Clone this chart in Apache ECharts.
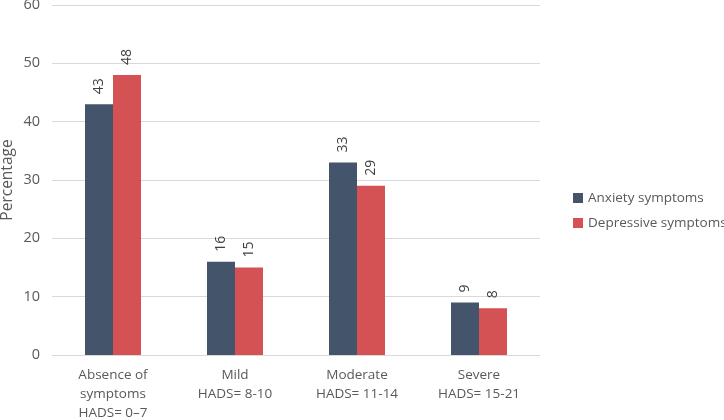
<!DOCTYPE html>
<html><head><meta charset="utf-8">
<script src="https://cdn.jsdelivr.net/npm/echarts@6/dist/echarts.min.js"></script>
<style>html,body{margin:0;padding:0;background:#fff}#c{width:724px;height:420px}</style>
</head><body><div id="c"></div>
<script>
const categories = ['Absence of\nsymptoms\nHADS= 0–7', 'Mild\nHADS= 8-10', 'Moderate\nHADS= 11-14', 'Severe\nHADS= 15-21'];
const anxiety = [43, 16, 33, 9];
const depressive = [48, 15, 29, 8];
const seriesNames = ['Anxiety symptoms', 'Depressive symptoms'];
const yTicks = {min: 0, max: 60, interval: 10};

const font = '"Open Sans", sans-serif';
const chart = echarts.init(document.getElementById('c'));
const lbl = {show: true, position: 'top', rotate: 90, align: 'left', verticalAlign: 'middle', distance: 10, color: '#404040', fontSize: 14, fontFamily: font};
chart.setOption({
  animation: false,
  textStyle: {fontFamily: font},
  grid: {left: 52, right: 184, top: 5, bottom: 65, outerBoundsMode: 'none', containLabel: false},
  legend: {
    orient: 'vertical', left: 568, top: 186, itemWidth: 10, itemHeight: 10, itemGap: 11,
    icon: 'rect', textStyle: {fontSize: 13.5, color: '#595959', fontFamily: font},
    data: seriesNames
  },
  xAxis: {
    type: 'category', data: categories,
    axisLine: {lineStyle: {color: '#d9d9d9'}}, axisTick: {show: false},
    axisLabel: {color: '#595959', fontSize: 13.5, lineHeight: 19, margin: 11, fontFamily: font, interval: 0}
  },
  yAxis: {
    type: 'value', min: yTicks.min, max: yTicks.max, interval: yTicks.interval,
    name: 'Percentage', nameLocation: 'middle', nameGap: 36, nameRotate: 90, nameMoveOverlap: false,
    nameTextStyle: {color: '#595959', fontSize: 15.5, fontFamily: font},
    axisLabel: {color: '#595959', fontSize: 14.5, margin: 12, fontFamily: font},
    splitLine: {lineStyle: {color: '#d9d9d9'}}, axisLine: {show: false}, axisTick: {show: false}
  },
  series: [
    {name: seriesNames[0], type: 'bar', data: anxiety, barWidth: 28, barGap: '0%', itemStyle: {color: '#44546a'}, label: lbl},
    {name: seriesNames[1], type: 'bar', data: depressive, barWidth: 28, barGap: '0%', itemStyle: {color: '#d45253'}, label: lbl}
  ]
});
</script></body></html>
